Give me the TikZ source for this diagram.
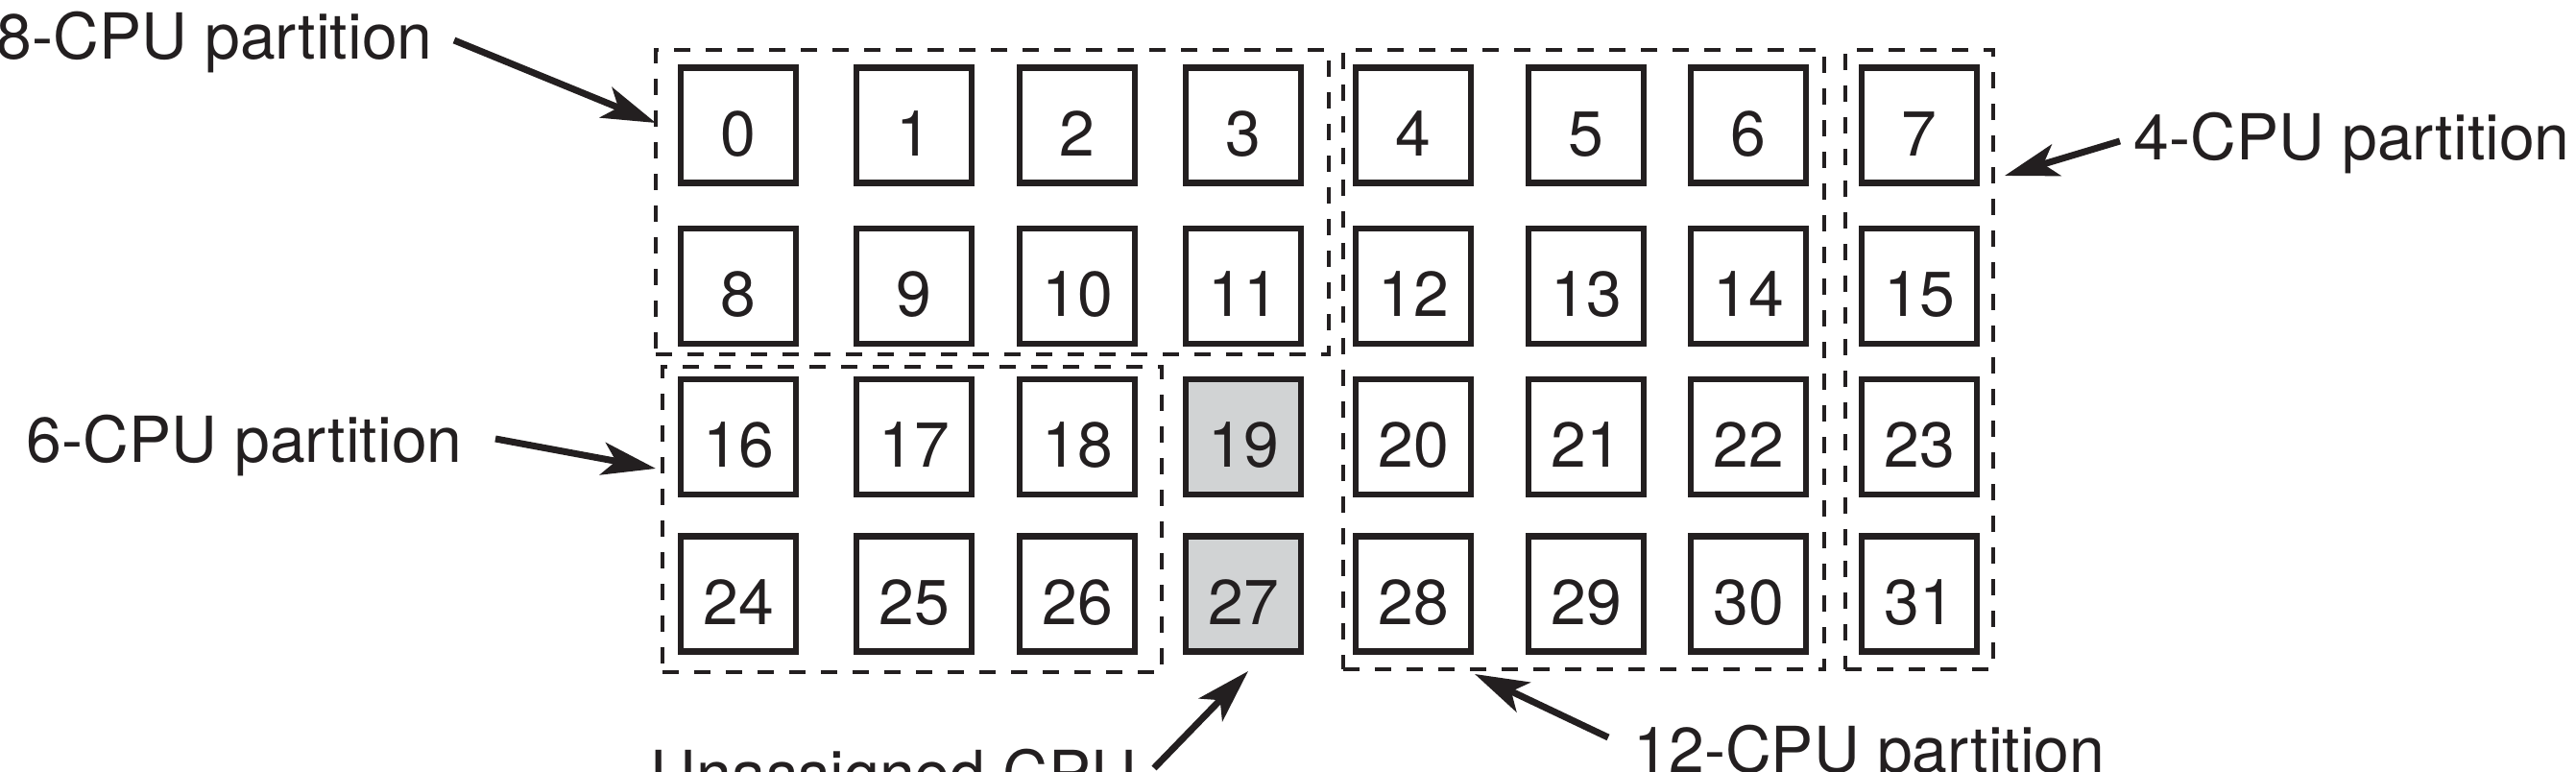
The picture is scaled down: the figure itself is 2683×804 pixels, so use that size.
\documentclass[tikz,border=0pt]{standalone}
\usepackage{fontspec}
\setmainfont{TeX Gyre Heros}
\usetikzlibrary{arrows.meta}
\definecolor{ink}{RGB}{35,31,32}
\definecolor{unas}{RGB}{209,211,212}
\begin{document}
\begin{tikzpicture}[x=0.01cm,y=-0.01cm,
  lbl/.style={font=\fontsize{18.8pt}{22pt}\selectfont, text=ink, inner sep=0pt, anchor=base west},
  cpu/.style={draw=ink, line width=0.065cm, minimum size=1.2cm, inner sep=0pt,
    text height=0.63cm, text depth=0pt, font=\fontsize{18.8pt}{22pt}\selectfont, text=ink},
  part/.style={draw=ink, line width=0.042cm, dash pattern=on 0.17cm off 0.16cm, inner sep=0pt},
  arr/.style={draw=ink, line width=0.07cm, -{Stealth[length=0.56cm, width=0.34cm, inset=0.14cm]}}]
\useasboundingbox (0,0) rectangle (2683,804);
% partitions
\node[part, minimum width=7.01cm, minimum height=3.17cm] (p8) at (1033.5,210.5) {};
\node[part, minimum width=5.20cm, minimum height=3.18cm] (p6) at (950,541) {};
\node[part, minimum width=5.01cm, minimum height=6.45cm] (p12) at (1649.5,374.5) {};
\node[part, minimum width=1.54cm, minimum height=6.45cm] (p4) at (1999,374.5) {};
% CPUs
\foreach \r/\y in {0/130.5,1/298,2/455,3/618.5}{
  \foreach \c/\x in {0/769,1/952,2/1122,3/1295,4/1472,5/1652,6/1821,7/1999}{
    \pgfmathtruncatemacro\n{\r*8+\c}
    \ifnum\c=3 \ifnum\r>1 \def\fillc{unas}\else\def\fillc{white}\fi\else\def\fillc{white}\fi
    \node[cpu, fill=\fillc] (c\n) at (\x,\y) {\n};
  }
}
% labels
\node[lbl] (l8) at (-4,62) {8-CPU partition};
\node[lbl] (l4) at (2222,167) {4-CPU partition};
\node[lbl] (l6) at (27,482) {6-CPU partition};
\node[lbl] (lu) at (677,830) {Unassigned CPU};
\node[lbl] (l12) at (1701,805) {12-CPU partition};
% arrow ends
\coordinate (s8) at (473,42);   \coordinate (t8) at (683,128);
\coordinate (s4) at (2208,147); \coordinate (t4) at (2088,183);
\coordinate (s6) at (516,457);  \coordinate (t6) at (683,488);
\coordinate (su) at (1202,800); \coordinate (tu) at (1300,699);
\coordinate (s12) at (1675,768); \coordinate (t12) at (1536,702);
\draw[arr] (s8) -- (t8);
\draw[arr] (s4) -- (t4);
\draw[arr] (s6) -- (t6);
\draw[arr] (su) -- (tu);
\draw[arr] (s12) -- (t12);
\end{tikzpicture}
\end{document}
